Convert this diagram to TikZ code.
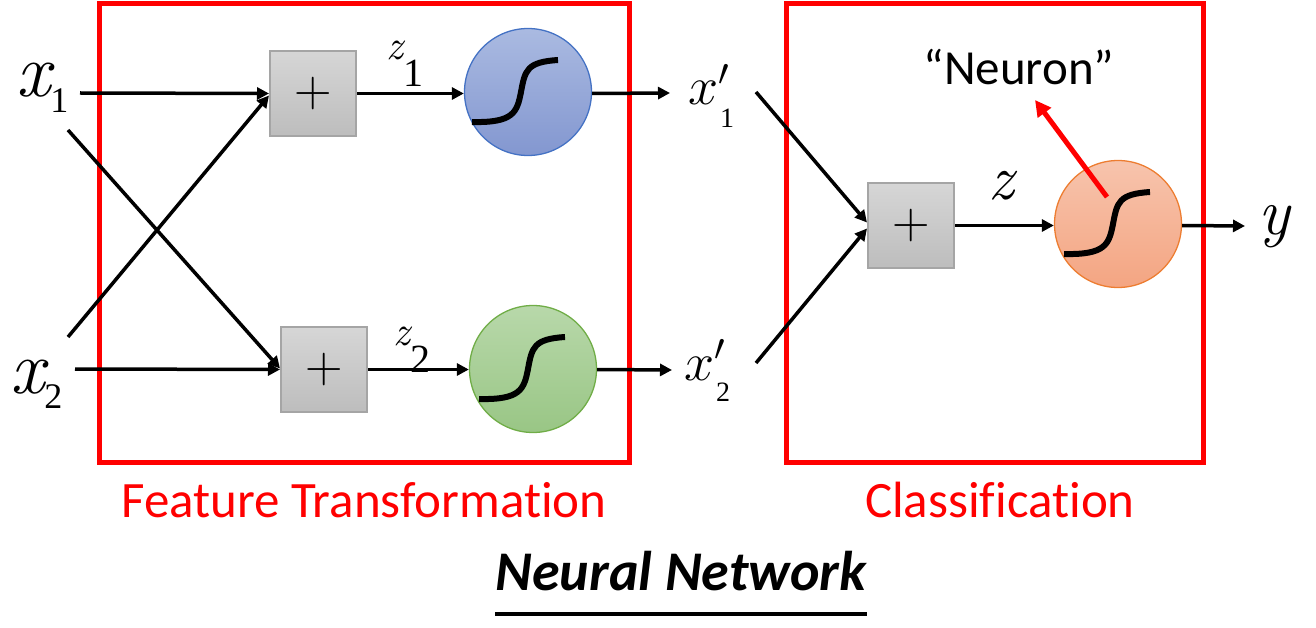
\documentclass[tikz,border=0pt]{standalone}
\usepackage{fix-cm}
\usepackage{fontspec}
\newfontfamily\carfont{Carlito}[Ligatures=NoCommon]
\newfontfamily\tnr{Liberation Serif}
\usetikzlibrary{arrows.meta}
\definecolor{graytop}{HTML}{D6D6D6}
\definecolor{graybot}{HTML}{BDBDBD}
\definecolor{grayedge}{HTML}{A5A5A5}
\definecolor{bluetop}{HTML}{AABAE1}
\definecolor{bluebot}{HTML}{8397D0}
\definecolor{blueedge}{HTML}{4472C4}
\definecolor{greentop}{HTML}{B8D8AA}
\definecolor{greenbot}{HTML}{99C685}
\definecolor{greenedge}{HTML}{70AD47}
\definecolor{orangetop}{HTML}{F7C4AD}
\definecolor{orangebot}{HTML}{F4A582}
\definecolor{orangeedge}{HTML}{ED7D31}
\definecolor{boxred}{HTML}{FF0000}
\begin{document}
\begin{tikzpicture}[x=1pt,y=-1pt,
  arr/.style={line width=3.5pt,-{Triangle[length=12pt,width=12pt]}},
  plusbox/.style={draw=grayedge,line width=2pt,top color=graytop,bottom color=graybot,
    minimum width=86pt,minimum height=85pt,inner sep=0pt},
  unit/.style={circle,minimum size=127pt,inner sep=0pt,line width=1.3pt},
  redbox/.style={draw=boxred,line width=5pt},
  lbl/.style={inner sep=0pt,anchor=base west},
  captxt/.style={inner sep=0pt,anchor=base,text=boxred,font=\carfont\fontsize{51}{51}\selectfont},
  sigmoid/.pic={\draw[line width=6pt] (-57,30) .. controls (-15,31) and (-12,20) .. (-8,0) .. controls (-4,-22) and (-2,-30) .. (29,-32);}
]
\useasboundingbox (0,0) rectangle (1316,628);
% red frames
\draw[redbox] (99,4) rectangle (629,462);
\draw[redbox] (786,4) rectangle (1203,462);
% plus boxes
\node[plusbox] (p1) at (313,93.5) {\fontsize{52}{52}\selectfont$+$};
\node[plusbox] (p2) at (324,369.5) {\fontsize{52}{52}\selectfont$+$};
\node[plusbox] (p3) at (911,225.5) {\fontsize{52}{52}\selectfont$+$};
% units
\node[unit,draw=blueedge,top color=bluetop,bottom color=bluebot] (c1) at (528,92) {};
\node[unit,draw=greenedge,top color=greentop,bottom color=greenbot] (c2) at (533,369) {};
\node[unit,draw=orangeedge,top color=orangetop,bottom color=orangebot] (c3) at (1118,224) {};
\path ([xshift=1pt]c1) pic {sigmoid};
\path ([xshift=3pt]c2) pic {sigmoid};
\path ([xshift=3pt]c3) pic {sigmoid};
% variable labels
\node[lbl] (x1) at (16,97) {{\fontsize{76}{76}\selectfont\itshape x}{\tnr\fontsize{36}{36}\selectfont\raisebox{-16pt}{1}}};
\node[lbl] (x2) at (10,393) {{\fontsize{76}{76}\selectfont\itshape x}{\tnr\fontsize{36}{36}\selectfont\raisebox{-15pt}{2}}};
\node[lbl] (z1) at (386,60) {{\fontsize{42}{42}\selectfont\itshape z}{\tnr\fontsize{40}{40}\selectfont\raisebox{-27pt}{1}}};
\node[lbl] (z2) at (393,345) {{\fontsize{42}{42}\selectfont\itshape z}{\tnr\fontsize{40}{40}\selectfont\raisebox{-27pt}{2}}};
\node[lbl] (xp1) at (688,105) {{\fontsize{54}{54}\selectfont$x'$}\hspace{-9pt}{\tnr\fontsize{28}{28}\selectfont\raisebox{-23pt}{1}}};
\node[lbl] (xp2) at (684,380) {{\fontsize{54}{54}\selectfont$x'$}\hspace{-9pt}{\tnr\fontsize{28}{28}\selectfont\raisebox{-21pt}{2}}};
\node[lbl] (z) at (988,200) {\fontsize{64}{64}\selectfont\itshape z};
\node[lbl] (y) at (1258,235) {\fontsize{66}{66}\selectfont\itshape y};
% connector free ends
\coordinate (a1) at (80,93);
\coordinate (a2) at (68,130);
\coordinate (b1) at (68,337);
\coordinate (b2) at (75,369);
\coordinate (d1) at (670,93);
\coordinate (d2) at (672,370);
\coordinate (e1) at (756,92);
\coordinate (e2) at (756,363);
\coordinate (yend) at (1245,226);
% connectors
\draw[arr] (a1) -- (p1.west);
\draw[arr] (a2) -- ([yshift=1pt]p2.west);
\draw[arr] (b1) -- ([yshift=-2pt]p1.west);
\draw[arr] (b2) -- (p2.west);
\draw[arr] (p1.east) -- (c1.west |- p1.east);
\draw[arr] (p2.east) -- (c2.west |- p2.east);
\draw[arr] (c1.east |- p1.east) -- (d1);
\draw[arr] (c2.east |- p2.east) -- (d2);
\draw[arr] (e1) -- ([yshift=3pt]p3.west);
\draw[arr] (e2) -- ([yshift=-3pt]p3.west);
\draw[arr] (p3.east) -- (c3.west |- p3.east);
\draw[arr] (c3.east |- p3.east) -- (yend);
% neuron label and red arrow
\node[inner sep=0pt,anchor=base] (neuron) at (1019,85) {\carfont\fontsize{49}{49}\selectfont “Neuron”};
\coordinate (rtail) at (1107,197);
\coordinate (rtip) at (1035,100);
\draw[draw=boxred,line width=5pt,-{Triangle[length=16pt,width=16pt]}] (rtail) -- (rtip);
% captions
\node[captxt] (ft) at (364,517) {Feature Transformation};
\node[captxt] (cl) at (1000,517) {Classification};
\node[inner sep=0pt,anchor=base] (nn) at (681,590) {\carfont\fontsize{56}{56}\selectfont\bfseries\itshape Neural Network};
\draw[line width=4pt] ([yshift=-24pt]nn.base west) -- ([yshift=-24pt]nn.base east);
\end{tikzpicture}
\end{document}
